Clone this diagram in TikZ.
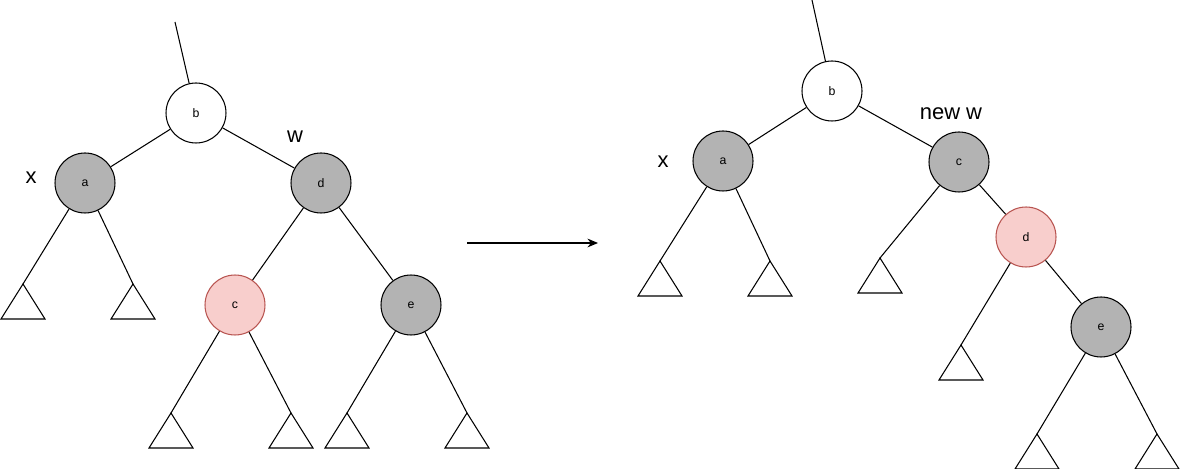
\documentclass[tikz,border=0pt]{standalone}
\usepackage{fontspec}
\setmainfont{Liberation Sans}
\usetikzlibrary{arrows.meta}
\definecolor{nodegray}{HTML}{B3B3B3}
\definecolor{pinkfill}{HTML}{F8CECC}
\definecolor{pinkline}{HTML}{B85450}

\begin{document}
\begin{tikzpicture}[x=0.02cm,y=-0.02cm,line width=0.6pt,
  treenode/.style={circle,draw,minimum size=1.2cm,inner sep=0pt,font=\fontsize{7}{8}\selectfont},
  blacknode/.style={treenode,fill=nodegray},
  rednode/.style={treenode,fill=pinkfill,draw=pinkline},
  whitenode/.style={treenode,fill=white},
  tag/.style={font=\fontsize{12.5}{14}\selectfont}]
\useasboundingbox (0,0) rectangle (1181,469);

% before
\coordinate (ltop) at (175,22);
\node[whitenode] (lb) at (196,113) {b};
\node[blacknode] (la) at (85,183) {a};
\node[blacknode] (ld) at (321,183) {d};
\node[rednode] (lc) at (235,305) {c};
\node[blacknode] (le) at (411,305) {e};
\node[tag] (lx) at (31,178) {x};
\node[tag] (lw) at (295,137) {w};
\coordinate (lt1) at (23,284);
\coordinate (lt2) at (133,284);
\coordinate (lt3) at (171,413);
\coordinate (lt4) at (291,413);
\coordinate (lt5) at (347,413);
\coordinate (lt6) at (467,413);
\draw (ltop) -- (lb);
\draw (lb) -- (la);
\draw (lb) -- (ld);
\draw (ld) -- (lc);
\draw (ld) -- (le);
\draw (la) -- (lt1);
\draw (la) -- (lt2);
\draw (lc) -- (lt3);
\draw (lc) -- (lt4);
\draw (le) -- (lt5);
\draw (le) -- (lt6);

% arrow
\coordinate (from) at (467,243);
\coordinate (to) at (598,243);
\draw[-{Stealth[length=6pt,width=5pt]}] (from) -- (to);

% after
\coordinate (rtop) at (812,0);
\node[whitenode] (rb) at (832,91) {b};
\node[blacknode] (ra) at (723,161) {a};
\node[blacknode] (rc) at (959,162) {c};
\node[rednode] (rd) at (1026,237) {d};
\node[blacknode] (re) at (1101,327) {e};
\node[tag] (rx) at (663,162) {x};
\node[tag] (rw) at (951,114) {new w};
\coordinate (rt1) at (660,261);
\coordinate (rt2) at (770,261);
\coordinate (rt3) at (880,258);
\coordinate (rt4) at (961,345);
\coordinate (rt5) at (1037,434);
\coordinate (rt6) at (1157,434);
\draw (rtop) -- (rb);
\draw (rb) -- (ra);
\draw (rb) -- (rc);
\draw (rc) -- (rd);
\draw (rd) -- (re);
\draw (ra) -- (rt1);
\draw (ra) -- (rt2);
\draw (rc) -- (rt3);
\draw (rd) -- (rt4);
\draw (re) -- (rt5);
\draw (re) -- (rt6);

% subtrees
\foreach \t in {lt1,lt2,lt3,lt4,lt5,lt6,rt1,rt2,rt3,rt4,rt5,rt6}
  \draw (\t) -- ++(-22,35) -- ++(44,0) -- cycle;
\end{tikzpicture}
\end{document}
